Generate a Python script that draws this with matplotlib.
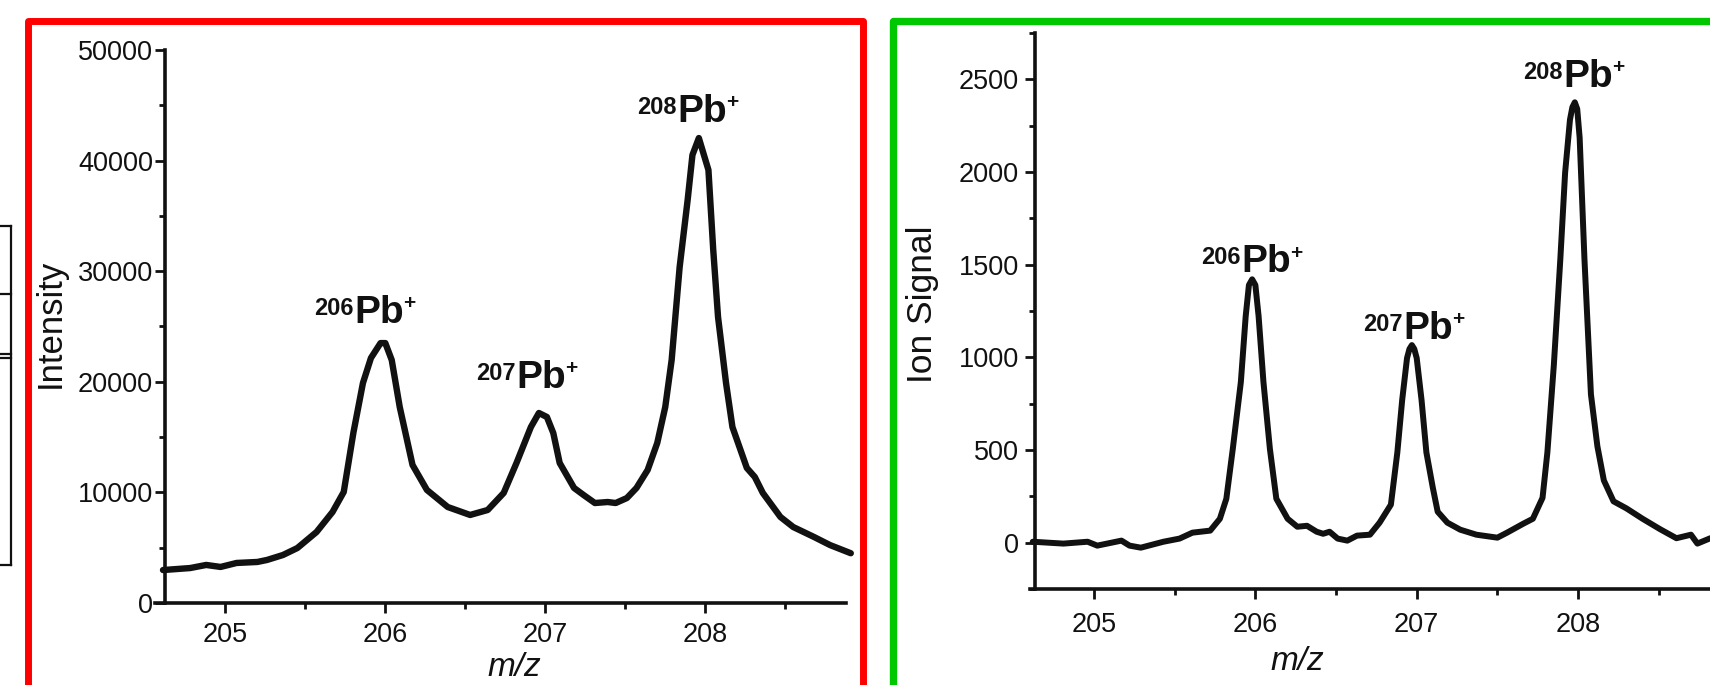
import matplotlib
matplotlib.use("Agg")
import matplotlib.pyplot as plt
from matplotlib.patches import Rectangle
from matplotlib.lines import Line2D

plt.rcParams['font.family'] = ['Liberation Sans', 'DejaVu Sans']

# ---------------- data ----------------
left_mz = [204.61, 204.78, 204.88, 204.97, 205.07, 205.20, 205.26, 205.36, 205.45, 205.57,
           205.67, 205.74, 205.80, 205.86, 205.91, 205.97, 206.00, 206.04, 206.09, 206.17,
           206.26, 206.39, 206.53, 206.64, 206.74, 206.82, 206.91, 206.96, 207.01, 207.05,
           207.09, 207.18, 207.24, 207.31, 207.39, 207.44, 207.51, 207.57, 207.64, 207.70,
           207.75, 207.79, 207.84, 207.89, 207.92, 207.96, 208.02, 208.05, 208.08, 208.13,
           208.17, 208.26, 208.31, 208.36, 208.47, 208.55, 208.68, 208.78, 208.91]
left_intensity = [2980, 3160, 3440, 3260, 3620, 3710, 3890, 4340, 4970, 6420,
                  8230, 10040, 15370, 19890, 22150, 23500, 23500, 21970, 17720, 12480,
                  10220, 8680, 7960, 8410, 9950, 12660, 15910, 17180, 16820, 15370,
                  12660, 10400, 9760, 9040, 9130, 9040, 9490, 10400, 12030, 14470,
                  17720, 21970, 30380, 36440, 40510, 42040, 39150, 31920, 25860, 19890,
                  15910, 12210, 11390, 9950, 7780, 6870, 5970, 5240, 4500]

right_mz = [204.62, 204.81, 204.96, 205.02, 205.17, 205.22, 205.29, 205.43, 205.53, 205.61,
            205.72, 205.78, 205.82, 205.86, 205.91, 205.94, 205.96, 205.98, 206.00, 206.02,
            206.05, 206.09, 206.13, 206.20, 206.26, 206.32, 206.38, 206.42, 206.46, 206.51,
            206.57, 206.63, 206.71, 206.77, 206.84, 206.88, 206.91, 206.94, 206.955, 206.97,
            206.985, 207.00, 207.03, 207.06, 207.10, 207.13, 207.19, 207.27, 207.37, 207.50,
            207.56, 207.66, 207.72, 207.78, 207.81, 207.85, 207.89, 207.92, 207.95, 207.965,
            207.98, 207.995, 208.01, 208.04, 208.08, 208.12, 208.16, 208.22, 208.30, 208.40,
            208.51, 208.61, 208.70, 208.74, 208.82]
right_signal = [5, -5, 5, -16, 11, -16, -27, 5, 22, 54,
                65, 129, 237, 506, 867, 1222, 1390, 1421, 1390, 1222,
                867, 506, 237, 129, 86, 91, 59, 48, 59, 22,
                11, 38, 43, 108, 205, 487, 770, 996, 1045, 1066,
                1045, 996, 770, 487, 296, 167, 108, 70, 43, 27,
                54, 102, 129, 242, 487, 958, 1526, 1997, 2282, 2350,
                2376, 2340, 2185, 1526, 800, 520, 336, 223, 185, 129,
                72, 24, 43, -5, 24]

left_xticks = [205, 206, 207, 208]
left_xminor = [205.5, 206.5, 207.5, 208.5]
left_yticks = [0, 10000, 20000, 30000, 40000, 50000]
left_yminor = [5000, 15000, 25000, 35000, 45000]

right_xticks = [205, 206, 207, 208]
right_xminor = [205.5, 206.5, 207.5, 208.5]
right_yticks = [0, 500, 1000, 1500, 2000, 2500]
right_yminor = [-250, 250, 750, 1250, 1750, 2250, 2750]

isotopes = ['206', '207', '208']
# label anchors ("Pb" centre, baseline) in data units
left_label_x = [205.96, 206.975, 207.98]
left_label_y = [25300, 19440, 43500]
right_label_x = [206.066, 207.07, 208.06]
right_label_y = [1459, 1100, 2460]

# ---------------- figure ----------------
W, H = 1710, 685
fig = plt.figure(figsize=(W / 100, H / 100), dpi=100)


def fx(px):
    return px / W


def fy(py):
    return 1 - py / H


LINE_COLOR = '#111111'


def style_axes(ax, spine_x, xt, xm, yt, ym, ypad, xpad):
    for s in ['top', 'right']:
        ax.spines[s].set_visible(False)
    ax.spines['left'].set_position(('data', spine_x))
    for s in ['left', 'bottom']:
        ax.spines[s].set_linewidth(2.6)
        ax.spines[s].set_color(LINE_COLOR)
    ax.set_xticks(xt)
    ax.set_xticks(xm, minor=True)
    ax.set_yticks(yt)
    ax.set_yticks(ym, minor=True)
    ax.set_xticklabels([str(v) for v in xt])
    ax.set_yticklabels([str(v) for v in yt])
    ax.tick_params(which='major', direction='out', length=7.2, width=2.0,
                   labelsize=19.5, color=LINE_COLOR, labelcolor='#111111')
    ax.tick_params(which='minor', direction='out', length=4.0, width=2.0,
                   color=LINE_COLOR)
    ax.tick_params(axis='y', which='major', pad=ypad)
    ax.tick_params(axis='x', which='major', pad=xpad)
    ax.patch.set_alpha(0)


def pb_label(ax, x, y, iso):
    t = ax.text(x, y, 'Pb', fontsize=28, fontweight='bold', ha='center',
                va='baseline', color='#111111')
    ax.annotate(iso, xy=(0, 1), xycoords=t, xytext=(-0.3, -1.5),
                textcoords='offset points', fontsize=17, fontweight='bold',
                ha='right', va='top', color='#111111')
    ax.annotate('+', xy=(1, 1), xycoords=t, xytext=(-0.5, 0.5),
                textcoords='offset points', fontsize=15, fontweight='bold',
                ha='left', va='top', color='#111111')


# left panel
ax1 = fig.add_axes([fx(155), fy(603), (846 - 155) / W, (603 - 50) / H])
ax1.set_xlim(204.56, 208.88)
ax1.set_ylim(0, 50000)
style_axes(ax1, 204.62, left_xticks, left_xminor, left_yticks, left_yminor, 1.0, 6.5)
ax1.plot(left_mz, left_intensity, color=LINE_COLOR, lw=4.6, solid_joinstyle='round',
         solid_capstyle='round', clip_on=False)
for iso, lx, ly in zip(isotopes, left_label_x, left_label_y):
    pb_label(ax1, lx, ly, iso)

# right panel
ax2 = fig.add_axes([fx(1030), fy(589), (1710 - 1030) / W, (589 - 33) / H])
ax2.set_xlim(204.603, 208.818)
ax2.set_ylim(-250, 2750)
style_axes(ax2, 204.634, right_xticks, right_xminor, right_yticks, right_yminor, 4.3, 9.4)
ax2.plot(right_mz, right_signal, color=LINE_COLOR, lw=4.3, solid_joinstyle='round',
         solid_capstyle='round', clip_on=False)
for iso, lx, ly in zip(isotopes, right_label_x, right_label_y):
    pb_label(ax2, lx, ly, iso)

# axis titles
fig.text(fx(50), fy(323), 'Intensity', rotation=90, ha='center', va='center',
         fontsize=25, color='#111111')
fig.text(fx(922), fy(304), 'Ion Signal', rotation=90, ha='center', va='center',
         fontsize=25.5, color='#111111')
fig.text(fx(514), fy(667), 'm/z', style='italic', ha='center', va='center',
         fontsize=24, color='#111111')
fig.text(fx(1297), fy(662), 'm/z', style='italic', ha='center', va='center',
         fontsize=24, color='#111111')

# coloured frames
red = Rectangle((fx(27.5), fy(720)), (862.5 - 27.5) / W, (720 - 20.5) / H,
                transform=fig.transFigure, fill=False, edgecolor='#ff0000',
                linewidth=5.0, joinstyle='round', zorder=5)
green = Rectangle((fx(892.5), fy(687.5)), (1740 - 892.5) / W, (687.5 - 20.5) / H,
                  transform=fig.transFigure, fill=False, edgecolor='#00c800',
                  linewidth=5.3, joinstyle='round', zorder=5)
fig.add_artist(red)
fig.add_artist(green)

# fragment of a neighbouring panel at the far left
frag_kw = dict(transform=fig.transFigure, color='#111111', linewidth=1.6)
fig.add_artist(Line2D([fx(11), fx(11)], [fy(226), fy(565)], **frag_kw))
for yy in [226, 294, 354, 358, 565]:
    fig.add_artist(Line2D([fx(-5), fx(11)], [fy(yy), fy(yy)], **frag_kw))

fig.savefig('out.png', dpi=100)
